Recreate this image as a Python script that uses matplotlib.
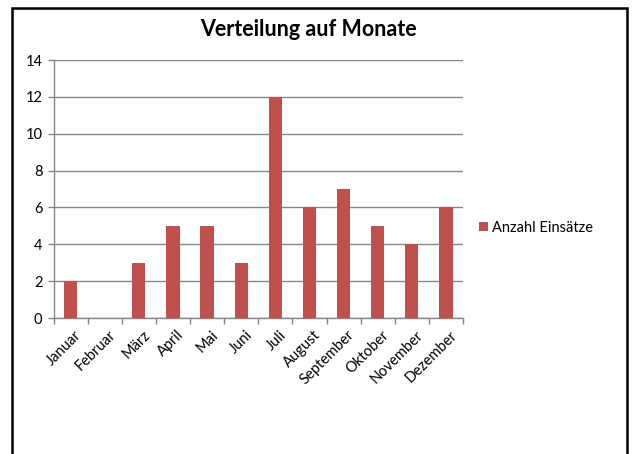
import numpy as np
import matplotlib
matplotlib.use("Agg")
import matplotlib.pyplot as plt
from matplotlib.patches import Rectangle

months = ["Januar", "Februar", "März", "April", "Mai", "Juni", "Juli",
          "August", "September", "Oktober", "November", "Dezember"]
einsaetze = [2, 0, 3, 5, 5, 3, 12, 6, 7, 5, 4, 6]
yticks = [0, 2, 4, 6, 8, 10, 12, 14]

plt.rcParams['font.family'] = ['Lato', 'DejaVu Sans']

fig = plt.figure(figsize=(6.35, 4.54), dpi=100)
ax = fig.add_axes([53.5/635, 1 - 318/454, (463 - 53.5)/635, (318 - 60)/454])

x = np.arange(len(months))
ax.bar(x, einsaetze, width=0.39, color='#C0504D', label='Anzahl Einsätze', zorder=3)

ax.set_xlim(-0.5, len(months) - 0.5)
ax.set_ylim(0, 14)
ax.set_yticks(yticks)
ax.set_yticklabels([str(v) for v in yticks], fontsize=10.5)
ax.yaxis.grid(True, color='#868686', lw=1, zorder=0)

# category ticks sit between the bars, labels under the bars
ax.set_xticks(np.arange(len(months) + 1) - 0.5)
ax.set_xticklabels([])
ax.set_xticks(x + 0.12, minor=True)
ax.set_xticklabels(months, minor=True, rotation=45, ha='right',
                   rotation_mode='anchor', fontsize=10.5)
ax.tick_params(axis='x', which='minor', length=0, pad=7)
ax.tick_params(axis='x', which='major', length=4, color='#868686', width=1)
ax.tick_params(axis='y', length=4, color='#868686', width=1, pad=4)

for s in ['top', 'right']:
    ax.spines[s].set_visible(False)
for s in ['left', 'bottom']:
    ax.spines[s].set_color('#868686')
    ax.spines[s].set_linewidth(1)

fig.text(308/635, 1 - 30/454, 'Verteilung auf Monate', ha='center', va='center',
         fontsize=15.5, fontweight='bold')

ax.legend(loc='center left', bbox_to_anchor=(466/635, 1 - 228/454),
          bbox_transform=fig.transFigure, frameon=False, fontsize=10.5,
          handlelength=0.6, handleheight=0.6, handletextpad=0.3)

# outer chart border (bottom edge lies outside the image)
fig.patches.append(Rectangle((12/635, -0.05), (627 - 12)/635, 1.05 - 8/454,
                             transform=fig.transFigure, fill=False,
                             edgecolor='black', lw=1.8))

fig.savefig('out.png', dpi=100)
